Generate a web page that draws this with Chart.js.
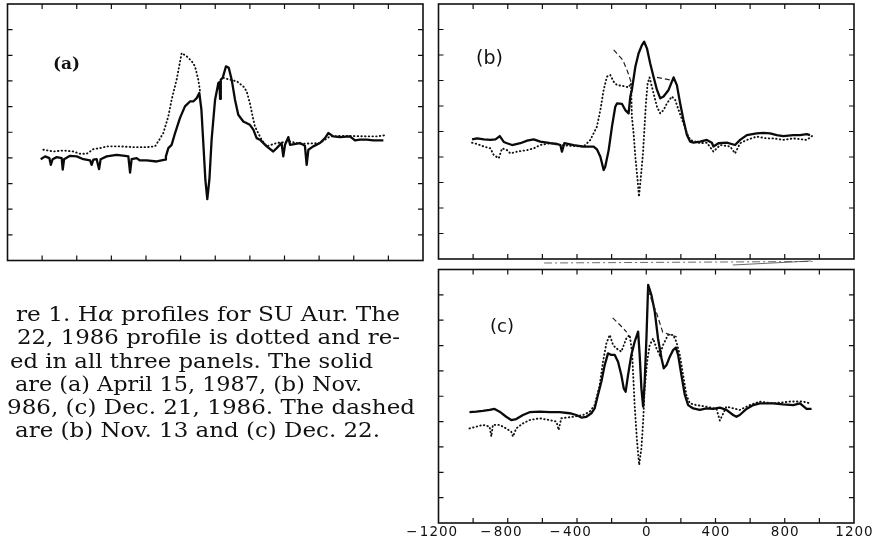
<!DOCTYPE html>
<html><head><meta charset="utf-8">
<script src="https://cdn.jsdelivr.net/npm/chart.js@4.4.0/dist/chart.umd.min.js"></script>
<style>
html,body{margin:0;padding:0;background:#fff;width:881px;height:553px;overflow:hidden;}
.panel{position:absolute;}
.lbl{position:absolute;color:#111;white-space:nowrap;}
svg{position:absolute;left:0;top:0;}
</style></head><body>
<div class="panel" style="left:0;top:0;width:440px;height:272px"><canvas id="ca"></canvas></div>
<div class="panel" style="left:430px;top:0;width:451px;height:270px"><canvas id="cb"></canvas></div>
<div class="panel" style="left:400px;top:255px;width:481px;height:298px"><canvas id="cc"></canvas></div>
<div class="lbl" style="left:53px;top:54px;font:bold 17px 'DejaVu Serif';line-height:19px">(a)</div>
<div class="lbl" style="left:476px;top:47px;font:19px 'DejaVu Sans';line-height:21px">(b)</div>
<div class="lbl" style="left:490px;top:316px;font:18px 'DejaVu Sans';line-height:20px">(c)</div>
<svg width="430" height="553" font-family="DejaVu Serif" font-size="21" fill="#111">
<text x="16" y="321" textLength="384" lengthAdjust="spacingAndGlyphs">re 1. H<tspan font-style="italic">α</tspan> profiles for SU Aur. The</text>
<text x="17" y="344" textLength="383" lengthAdjust="spacingAndGlyphs">22, 1986 profile is dotted and re-</text>
<text x="10" y="367.5" textLength="363" lengthAdjust="spacingAndGlyphs">ed in all three panels. The solid</text>
<text x="15" y="391" textLength="347" lengthAdjust="spacingAndGlyphs">are (a) April 15, 1987, (b) Nov.</text>
<text x="7" y="413.5" textLength="408" lengthAdjust="spacingAndGlyphs">986, (c) Dec. 21, 1986. The dashed</text>
<text x="15" y="437" textLength="365" lengthAdjust="spacingAndGlyphs">are (b) Nov. 13 and (c) Dec. 22.</text>
</svg>
<script>
// Velocity (km/s) axis ticks and labels
const xTickValues = [-1000,-800,-600,-400,-200,0,200,400,600,800,1000];
const xLabelValues = [-1200,-800,-400,0,400,800,1200];
const xTickLabels = ['−1200','−800','−400','0','400','800','1200'];
const yTickValues = [1,2,3,4,5,6,7,8,9];

// Panel (a): solid = April 15, 1987 ; dotted = Nov. 22, 1986
const aSolidV = [-1008,-983,-958,-950,-939,-916,-887,-881,-873,-839,-800,-762,-723,-714,-704,-685,-671,-662,-627,-570,-521,-502,-492,-483,-454,-435,-396,-338,-290,-285,-271,-252,-232,-204,-175,-146,-127,-107,-92,-80,-69,-57,-46,-34,-21,-1,18,24,28,32,43,62,78,95,114,133,162,200,220,239,258,297,335,355,383,393,403,422,432,489,518,528,538,566,605,634,653,682,721,778,807,836,875,913,971];
const aSolidF = [3.95,4.06,3.99,3.73,3.95,4.03,3.99,3.54,3.95,4.08,4.06,3.95,3.90,3.73,3.93,3.95,3.56,3.95,4.06,4.12,4.08,4.06,3.43,3.95,3.99,3.90,3.90,3.86,3.93,4.06,4.38,4.51,4.97,5.55,6.01,6.20,6.20,6.33,6.53,5.88,4.58,3.14,2.39,3.14,4.71,6.27,6.92,6.95,6.30,7.05,7.12,7.57,7.51,7.05,6.27,5.68,5.42,5.29,5.10,4.77,4.71,4.45,4.25,4.38,4.58,4.06,4.51,4.81,4.51,4.58,4.47,3.73,4.32,4.45,4.58,4.77,4.97,4.84,4.81,4.84,4.68,4.71,4.71,4.68,4.68];
const aDotV = [-993,-935,-877,-820,-781,-743,-704,-666,-627,-550,-473,-396,-348,-323,-300,-271,-252,-223,-194,-165,-136,-117,-98,-88,0,47,85,124,162,181,200,216,229,248,268,297,355,432,489,605,663,740,875,932,990];
const aDotF = [4.32,4.25,4.29,4.25,4.16,4.16,4.34,4.38,4.45,4.45,4.42,4.42,4.45,4.71,4.97,5.62,6.27,7.05,8.09,7.96,7.77,7.57,7.05,6.60,null,7.12,7.05,6.99,6.79,6.60,6.14,5.62,5.23,4.97,4.71,4.45,4.58,4.64,4.55,4.58,4.84,4.86,4.84,4.84,4.89];

// Panel (b): solid = Nov. 14, 1986 ; dotted = Nov. 22 ; dashed = Nov. 13
const bSolidV = [-1006,-977,-938,-900,-871,-846,-823,-804,-775,-727,-688,-650,-612,-554,-515,-496,-487,-473,-419,-362,-304,-285,-265,-246,-237,-217,-198,-179,-169,-140,-121,-102,-92,-83,-63,-44,-25,-12,4,23,42,62,81,100,129,158,177,196,215,235,254,273,312,350,379,388,417,465,513,542,581,638,677,715,754,792,850,888,927,946];
const bSolidF = [4.69,4.73,4.69,4.67,4.69,4.82,4.59,4.54,4.47,4.54,4.64,4.69,4.60,4.54,4.51,4.47,4.21,4.54,4.47,4.41,4.41,4.30,4.01,3.49,3.62,4.27,5.19,5.97,6.10,6.08,5.84,5.71,6.37,6.63,7.54,8.07,8.39,8.52,8.26,7.67,7.15,6.63,6.30,6.37,6.63,7.12,6.82,6.10,5.45,4.86,4.60,4.56,4.60,4.67,4.56,4.41,4.54,4.56,4.47,4.67,4.86,4.93,4.95,4.93,4.86,4.82,4.86,4.86,4.90,4.86];
const bDotV = [-1006,-977,-938,-900,-881,-852,-833,-804,-785,-746,-688,-650,-612,-554,-496,-419,-362,-323,-304,-285,-265,-246,-227,-208,-188,-169,-131,-102,-88,-83,-73,-63,-50,-42,-31,-19,-12,-2,8,19,42,62,81,100,119,148,167,187,215,235,254,312,350,388,427,485,513,542,581,638,696,735,792,850,927,965];
const bDotF = [4.56,4.51,4.41,4.34,4.08,3.95,4.34,4.27,4.14,4.21,4.27,4.34,4.47,4.54,4.47,4.43,4.41,4.67,4.93,5.19,5.84,6.63,7.15,7.22,6.95,6.82,6.78,6.73,6.89,5.58,4.93,4.01,3.10,2.44,3.23,4.14,4.93,6.10,6.89,7.12,6.50,5.97,5.71,5.84,6.10,6.37,6.24,5.84,5.32,4.93,4.67,4.54,4.56,4.21,4.47,4.41,4.14,4.54,4.67,4.80,4.73,4.73,4.67,4.73,4.67,4.86];
const bDashV = [-188,-135,-108,-88,0,62,138];
const bDashF = [8.20,7.80,7.35,6.95,null,7.12,7.02];

// Panel (c): solid = Dec. 21, 1986 ; dotted = Nov. 22 ; dashed = Dec. 22
const cSolidV = [-1021,-982,-944,-905,-876,-847,-809,-780,-751,-712,-674,-616,-558,-500,-442,-404,-375,-346,-317,-298,-279,-259,-240,-221,-201,-182,-163,-144,-130,-119,-105,-86,-67,-47,-38,-28,-18,-9,1,11,30,49,68,88,101,117,136,155,171,184,203,223,242,271,309,348,386,425,463,502,521,540,579,618,656,733,791,849,888,926,955];
const cSolidF = [4.37,4.39,4.42,4.46,4.50,4.39,4.19,4.06,4.10,4.26,4.37,4.39,4.37,4.37,4.33,4.26,4.16,4.19,4.33,4.52,5.05,5.58,6.23,6.69,6.63,6.63,6.36,5.84,5.31,5.18,5.84,6.63,7.15,7.55,6.63,5.31,4.59,5.58,7.28,9.39,8.99,8.34,7.28,6.50,6.10,6.23,6.56,6.82,6.92,6.63,5.84,5.05,4.65,4.52,4.46,4.52,4.50,4.55,4.46,4.26,4.19,4.26,4.50,4.65,4.72,4.72,4.68,4.65,4.72,4.50,4.50];
const cDotV = [-1021,-982,-944,-905,-895,-886,-847,-809,-780,-770,-751,-712,-674,-616,-558,-519,-506,-491,-423,-365,-327,-298,-269,-250,-230,-211,-192,-173,-144,-115,-96,-82,-67,-53,-41,-28,-18,-9,5,20,40,59,78,97,126,155,174,194,213,232,252,290,348,406,425,463,540,598,656,733,830,907,945];
const cDotF = [3.73,3.80,3.87,3.80,3.41,3.87,3.87,3.73,3.60,3.41,3.73,3.93,4.06,4.13,4.06,4.00,3.67,4.13,4.19,4.26,4.39,4.65,5.44,6.36,7.09,7.42,7.02,6.89,6.76,7.28,7.42,6.76,4.65,3.21,2.29,2.95,4.00,5.31,6.36,7.02,7.28,6.89,6.63,7.02,7.42,7.42,7.15,6.63,5.84,5.05,4.72,4.65,4.59,4.50,4.04,4.59,4.46,4.65,4.79,4.72,4.79,4.79,4.72];
const cDashV = [-194,-150,-113,0,9,60,95,176];
const cDashF = [8.09,7.80,7.53,null,9.19,8.28,7.53,7.34];

function pts(v, f) {
  const n = Math.min(v.length, f.length), out = [];
  for (let i = 0; i < n; i++) out.push({x: v[i], y: f[i]});
  return out;
}
const solid = (v, f) => ({data: pts(v, f), borderColor: '#0a0a0a', borderWidth: 2.3, borderJoinStyle: 'round', fill: false});
const dotted = (v, f) => ({data: pts(v, f), borderColor: '#111', borderWidth: 1.9, borderDash: [0.5, 3.2], borderCapStyle: 'round', fill: false});
const dashed = (v, f) => ({data: pts(v, f), borderColor: '#222', borderWidth: 1.2, borderDash: [5, 3], fill: false});

const framePlugin = {
  id: 'frame',
  afterDatasetsDraw(chart, args, opts) {
    const ctx = chart.ctx, a = chart.chartArea, xs = chart.scales.x, ys = chart.scales.y, L = 5;
    ctx.save();
    ctx.strokeStyle = '#111';
    ctx.lineWidth = 1.6;
    ctx.strokeRect(a.left, a.top, a.right - a.left, a.bottom - a.top);
    ctx.lineWidth = 1.2;
    ctx.beginPath();
    xTickValues.forEach(v => {
      const p = xs.getPixelForValue(v);
      ctx.moveTo(p, a.bottom); ctx.lineTo(p, a.bottom - L);
      ctx.moveTo(p, a.top); ctx.lineTo(p, a.top + L);
    });
    yTickValues.forEach(v => {
      const p = ys.getPixelForValue(v);
      ctx.moveTo(a.left, p); ctx.lineTo(a.left + L, p);
      ctx.moveTo(a.right, p); ctx.lineTo(a.right - L, p);
    });
    ctx.stroke();
    if (opts.labels) {
      ctx.fillStyle = '#111';
      ctx.font = '13.5px "DejaVu Sans"';
      ctx.letterSpacing = '1px';
      ctx.textBaseline = 'alphabetic';
      xLabelValues.forEach((v, i) => {
        const p = xs.getPixelForValue(v);
        const lab = xTickLabels[i];
        const neg = lab.startsWith('−');
        const digits = neg ? lab.slice(1) : lab;
        const w = ctx.measureText(digits).width - 1;
        ctx.textAlign = 'left';
        ctx.fillText(digits, p - w / 2, a.bottom + 12.5);
        if (neg) { ctx.textAlign = 'right'; ctx.fillText('−', p - w / 2 - 1.5, a.bottom + 12.5); }
      });
    }
    if (opts.scanLine) {
      const y0 = a.top - 6.5;
      ctx.strokeStyle = '#444'; ctx.lineWidth = 0.8;
      ctx.setLineDash([8, 3, 2, 3]);
      ctx.beginPath();
      ctx.moveTo(xs.getPixelForValue(-590), y0); ctx.lineTo(xs.getPixelForValue(960), y0 - 1.5);
      ctx.stroke();
      ctx.setLineDash([]);
      ctx.beginPath();
      ctx.moveTo(xs.getPixelForValue(500), y0 + 2); ctx.lineTo(xs.getPixelForValue(950), y0 - 2);
      ctx.stroke();
    }
    ctx.restore();
  }
};

function makeChart(id, datasets, pad, extra) {
  return new Chart(document.getElementById(id), {
    type: 'line',
    data: {datasets},
    options: {
      responsive: true, maintainAspectRatio: false, animation: false, devicePixelRatio: 1,
      layout: {padding: pad},
      spanGaps: false,
      plugins: {legend: {display: false}, tooltip: {enabled: false}, frame: extra || {}},
      scales: {
        x: {type: 'linear', min: -1200, max: 1200, display: false},
        y: {type: 'linear', min: 0, max: 10, display: false}
      },
      elements: {point: {radius: 0}, line: {tension: 0}}
    },
    plugins: [framePlugin]
  });
}

makeChart('ca', [dotted(aDotV, aDotF), solid(aSolidV, aSolidF)], {left: 7.5, right: 17, top: 4, bottom: 11.5});
makeChart('cb', [dotted(bDotV, bDotF), dashed(bDashV, bDashF), solid(bSolidV, bSolidF)], {left: 8.5, right: 27, top: 4, bottom: 11});
makeChart('cc', [dotted(cDotV, cDotF), dashed(cDashV, cDashF), solid(cSolidV, cSolidF)], {left: 38.5, right: 27, top: 14.5, bottom: 30}, {labels: true, scanLine: true});
</script>
</body></html>
